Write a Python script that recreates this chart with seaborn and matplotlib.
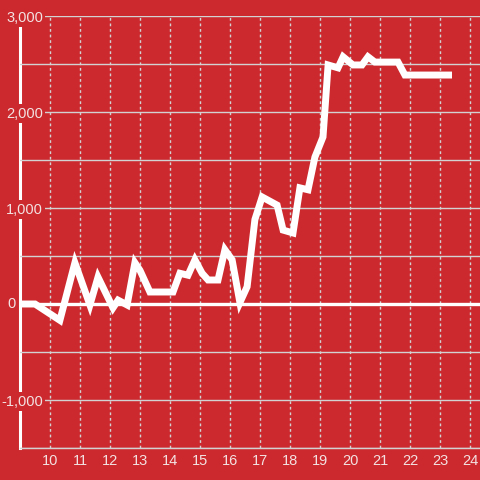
import matplotlib
matplotlib.use("Agg")
import matplotlib.pyplot as plt
import matplotlib.ticker as mticker
import matplotlib.transforms as mtrans
import seaborn as sns
import pandas as pd

# hours (decimal) and values
hours = [9.0, 9.5, 10.33, 10.83, 11.33, 11.6, 12.1, 12.27, 12.57, 12.83, 13.0,
         13.33, 14.1, 14.33, 14.6, 14.83, 15.07, 15.27, 15.6, 15.83, 16.07,
         16.33, 16.57, 16.83, 17.07, 17.57, 17.77, 18.1, 18.33, 18.6, 18.83,
         19.1, 19.27, 19.6, 19.77, 20.1, 20.4, 20.6, 20.83, 21.6, 21.83, 23.4]
values = [0, 0, -170, 430, -10, 280, -40, 40, -10, 430, 350,
          125, 125, 320, 300, 460, 320, 250, 250, 565, 460,
          15, 180, 880, 1115, 1030, 770, 740, 1210, 1190, 1530,
          1740, 2490, 2460, 2575, 2490, 2490, 2575, 2520, 2520, 2385, 2385]

yticks_major = [-1000, 0, 1000, 2000, 3000]
xticks = list(range(10, 25))

red = "#cc292e"
grid = "#d2d2d2"
txt = "#f3e2e2"

sns.set_style("white", {"axes.facecolor": red, "figure.facecolor": red})
plt.rcParams["font.family"] = ["Liberation Sans", "DejaVu Sans"]

df = pd.DataFrame({"hour": hours, "value": values})

fig = plt.figure(figsize=(4.8, 4.8), dpi=100)
ax = fig.add_axes([20 / 480, 32 / 480, 460 / 480, 432 / 480])
ax.set_axisbelow(True)

ax.axhline(0, color="white", lw=2.4, zorder=1)
sns.lineplot(data=df, x="hour", y="value", ax=ax, color="white", lw=5,
             solid_joinstyle="miter", solid_capstyle="butt", zorder=3)

ax.set_xlim(9.0, 24.333)
ax.set_ylim(-1500, 3000)
ax.set_xlabel("")
ax.set_ylabel("")

ax.set_xticks(xticks)
ax.set_yticks(yticks_major)
ax.yaxis.set_minor_locator(mticker.MultipleLocator(500))
ax.yaxis.set_major_formatter(
    mticker.FuncFormatter(lambda v, p: "" if v == 0 else f"{int(v):,}"))

ax.grid(axis="y", which="both", color=grid, lw=1, ls="-")
ax.grid(axis="x", which="major", color=grid, lw=1, ls=(0, (2, 2)))

ax.tick_params(axis="y", which="both", length=0, pad=-16.5, labelsize=10.5,
               labelcolor=txt)
ax.tick_params(axis="x", length=0, pad=4, labelsize=10.5, labelcolor=txt)
for lab in ax.get_yticklabels():
    lab.set_bbox(dict(facecolor=red, edgecolor="none", pad=1.5))

# the zero label sits left of the axis line
trans = mtrans.blended_transform_factory(ax.transAxes, ax.transData)
ax.text(-4.5 / 460, 0, "0", transform=trans, ha="right", va="center",
        fontsize=10.5, color=txt)

for s in ["top", "right"]:
    ax.spines[s].set_visible(False)
ax.spines["left"].set_color("white")
ax.spines["left"].set_linewidth(2.2)
ax.spines["left"].set_bounds(-1500, 2917)
ax.spines["left"].set_zorder(0.4)
ax.spines["bottom"].set_color(grid)
ax.spines["bottom"].set_linewidth(1)

fig.savefig("out.png", dpi=100, facecolor=red)
